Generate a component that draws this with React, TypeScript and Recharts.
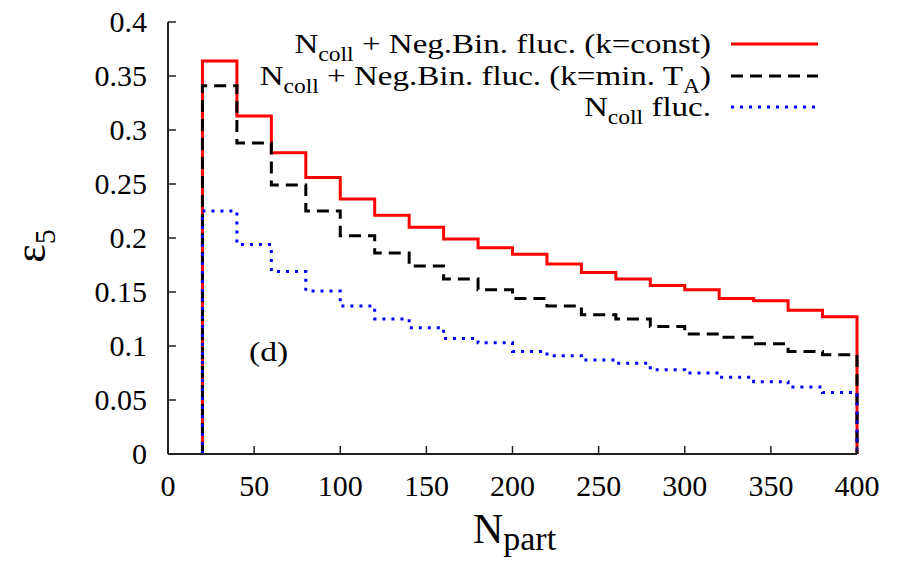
import React from 'react';
import { LineChart, Line, XAxis, YAxis, Legend, ReferenceDot } from 'recharts';

// Bin edges of the N_part histogram (20 edges -> 19 bins)
const binEdges = [20, 40, 60, 80, 100, 120, 140, 160, 180, 200, 220, 240, 260, 280, 300, 320, 340, 360, 380, 400];

// epsilon_5 per bin
const negBinConst = [0.364, 0.313, 0.279, 0.256, 0.236, 0.221, 0.210, 0.199, 0.191, 0.185, 0.176, 0.168, 0.162, 0.156, 0.152, 0.144, 0.142, 0.133, 0.127];
const negBinMinTA = [0.341, 0.288, 0.249, 0.225, 0.202, 0.186, 0.174, 0.162, 0.152, 0.144, 0.137, 0.129, 0.125, 0.118, 0.111, 0.108, 0.102, 0.095, 0.092];
const ncollFluc = [0.225, 0.194, 0.169, 0.151, 0.137, 0.125, 0.117, 0.107, 0.103, 0.095, 0.091, 0.087, 0.084, 0.078, 0.075, 0.071, 0.067, 0.062, 0.057];

const xTicks = [0, 50, 100, 150, 200, 250, 300, 350, 400];
const yTicks = [0, 0.05, 0.1, 0.15, 0.2, 0.25, 0.3, 0.35, 0.4];

const seriesKeys = ['negBinConst', 'negBinMinTA', 'ncollFluc'];
const seriesValues = [negBinConst, negBinMinTA, ncollFluc];
const seriesNames = ['Ncoll + Neg.Bin. fluc. (k=const)', 'Ncoll + Neg.Bin. fluc. (k=min. TA)', 'Ncoll fluc.'];
// legend text segments: [text, isSubscript]
const legendSegments: [string, boolean][][] = [
  [['N', false], ['coll', true], [' + Neg.Bin. fluc. (k=const)', false]],
  [['N', false], ['coll', true], [' + Neg.Bin. fluc. (k=min. T', false], ['A', true], [')', false]],
  [['N', false], ['coll', true], [' fluc.', false]],
];
const panelLabel = '(d)';
const panelLabelPos = { x: 47, y: 0.086 };

const FONT = '"Liberation Serif", "Times New Roman", serif';
const styles = [
  { color: '#ff0000', dash: undefined as string | undefined, width: 3 },
  { color: '#000000', dash: '12 7', width: 3 },
  { color: '#0000ff', dash: '3 6', width: 3 },
];

function buildData() {
  const rows: Record<string, number>[] = [];
  const n = negBinConst.length;
  const zero: Record<string, number> = { x: binEdges[0] };
  seriesKeys.forEach((k) => (zero[k] = 0));
  rows.push(zero);
  for (let i = 0; i < n; i++) {
    const r: Record<string, number> = { x: binEdges[i] };
    seriesKeys.forEach((k, j) => (r[k] = seriesValues[j][i]));
    rows.push(r);
  }
  const end: Record<string, number> = { x: binEdges[n] };
  seriesKeys.forEach((k, j) => (end[k] = seriesValues[j][n - 1]));
  rows.push(end);
  const endZero: Record<string, number> = { x: binEdges[n] };
  seriesKeys.forEach((k) => (endZero[k] = 0));
  rows.push(endZero);
  return rows;
}
const data = buildData();

function renderSegments(segs: [string, boolean][], mainSize: number, subSize: number, shift: number) {
  const out: React.ReactNode[] = [];
  let cur = 0;
  segs.forEach(([t, sub], i) => {
    const target = sub ? shift : 0;
    out.push(
      <tspan key={i} dy={target - cur} fontSize={sub ? subSize : mainSize} style={{ whiteSpace: 'pre' }}>
        {t}
      </tspan>
    );
    cur = target;
  });
  return out;
}

const LegendContent = () => {
  const rowY = [44, 76, 107];
  return (
    <svg width={898} height={130} style={{ display: 'block' }}>
      {legendSegments.map((segs, i) => (
        <g key={i}>
          <text
            transform={`translate(711, ${rowY[i] + 9}) scale(1.18, 1)`}
            x={0}
            y={0}
            textAnchor="end"
            fontFamily={FONT}
            fill="#000"
            xmlSpace="preserve"
          >
            {renderSegments(segs, 28, 20, 8)}
          </text>
          <line x1={731} x2={818} y1={rowY[i]} y2={rowY[i]} stroke={styles[i].color} strokeWidth={styles[i].width} strokeDasharray={styles[i].dash} />
        </g>
      ))}
    </svg>
  );
};

const XLabel = (props: any) => {
  const vb = props.viewBox || {};
  const cx = vb.x + vb.width / 2 + 2;
  return (
    <text x={cx} y={543} textAnchor="middle" fontFamily={FONT} fill="#000">
      <tspan fontSize={42}>N</tspan>
      <tspan fontSize={34} dy={7}>part</tspan>
    </text>
  );
};

const YLabel = (props: any) => {
  const vb = props.viewBox || {};
  const cy = vb.y + vb.height / 2 + 8;
  return (
    <text transform={`translate(45, ${cy}) rotate(-90)`} textAnchor="middle" fontFamily={FONT} fill="#000">
      <tspan fontSize={44}>ε</tspan>
      <tspan fontSize={30} dy={10}>5</tspan>
    </text>
  );
};

const PanelLabel = (props: any) => {
  const vb = props.viewBox || {};
  return (
    <text transform={`translate(${vb.x}, ${vb.y}) scale(1.2, 1)`} x={0} y={0} fontFamily={FONT} fontSize={28} fill="#000">
      {panelLabel}
    </text>
  );
};

const XTick = (props: any) => (
  <text x={props.x} y={props.y} dy="0.71em" textAnchor="middle" fontFamily={FONT} fontSize={30} fill="#000">
    {props.payload.value}
  </text>
);

const YTick = (props: any) => (
  <text x={props.x} y={props.y} dy="0.34em" textAnchor="end" fontFamily={FONT} fontSize={30} fill="#000">
    {props.payload.value}
  </text>
);

const axisLine = { stroke: '#222', strokeWidth: 2 };
const tickLine = { stroke: '#222', strokeWidth: 1.5 };

export default function App() {
  return (
    <div style={{ position: 'absolute', left: 0, top: 0, background: '#fff', fontFamily: FONT }}>
      <LineChart width={898} height={562} data={data} margin={{ top: 22, right: 41, bottom: 0, left: 0 }}>
        <XAxis
          xAxisId="bottom"
          type="number"
          dataKey="x"
          domain={[0, 400]}
          ticks={xTicks}
          interval={0}
          height={108}
          tickSize={-8}
          tickMargin={29}
          tick={<XTick />}
          axisLine={axisLine}
          tickLine={tickLine}
          label={<XLabel />}
        />
        <XAxis
          xAxisId="top"
          orientation="top"
          type="number"
          dataKey="x"
          domain={[0, 400]}
          ticks={xTicks}
          interval={0}
          height={0}
          tickSize={-8}
          tickFormatter={() => ''}
          axisLine={axisLine}
          tickLine={tickLine}
        />
        <YAxis
          yAxisId="left"
          type="number"
          domain={[0, 0.4]}
          ticks={yTicks}
          interval={0}
          width={168}
          tickSize={-8}
          tickMargin={29}
          tick={<YTick />}
          axisLine={axisLine}
          tickLine={tickLine}
          label={<YLabel />}
        />
        <YAxis
          yAxisId="right"
          orientation="right"
          type="number"
          domain={[0, 0.4]}
          ticks={yTicks}
          interval={0}
          width={0}
          tickSize={-8}
          tickFormatter={() => ''}
          axisLine={axisLine}
          tickLine={tickLine}
        />
        {seriesKeys.map((k, i) => (
          <Line
            key={k}
            xAxisId="bottom"
            yAxisId="left"
            type="stepAfter"
            dataKey={k}
            name={seriesNames[i]}
            stroke={styles[i].color}
            strokeWidth={styles[i].width}
            strokeDasharray={styles[i].dash}
            dot={false}
            activeDot={false}
            isAnimationActive={false}
          />
        ))}
        <ReferenceDot
          xAxisId="bottom"
          yAxisId="left"
          x={panelLabelPos.x}
          y={panelLabelPos.y}
          r={0}
          fill="none"
          stroke="none"
          label={<PanelLabel />}
        />
        <Legend
          layout="vertical"
          align="center"
          verticalAlign="middle"
          wrapperStyle={{ left: 0, top: 0, width: 898, height: 130 }}
          content={<LegendContent />}
        />
      </LineChart>
    </div>
  );
}
